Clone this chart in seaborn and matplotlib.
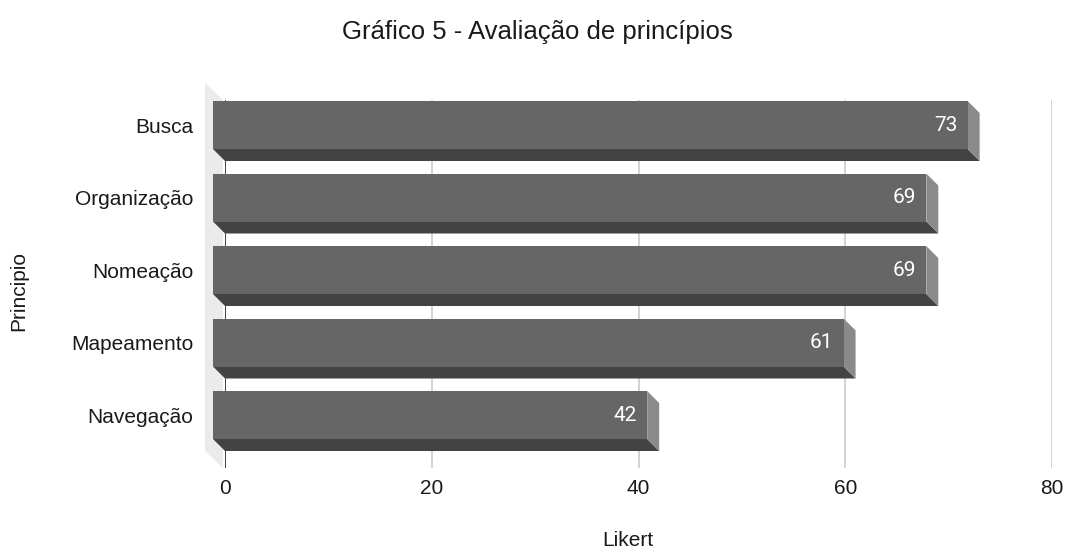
import matplotlib
matplotlib.use("Agg")
import matplotlib.pyplot as plt
from matplotlib.patches import Polygon
import seaborn as sns

# data
categories = ['Busca', 'Organização', 'Nomeação', 'Mapeamento', 'Navegação']
values = [73, 69, 69, 61, 42]
xticks = [0, 20, 40, 60, 80]

# colours
front = '#666666'
bottom_face = '#434343'
side_face = '#8a8a8a'
wall = '#ebebeb'
grid = '#cccccc'
text_c = '#1a1a1a'

sns.set_theme(style="white")
plt.rcParams['font.family'] = ['Liberation Sans', 'DejaVu Sans']

W, H = 1067, 554
fig = plt.figure(figsize=(W / 100, H / 100), dpi=100)
ax = fig.add_axes([225 / W, (H - 468) / H, 827 / W, 368 / H])

sns.barplot(x=values, y=categories, orient='h', color=front, saturation=1,
            width=0.662, ax=ax, zorder=3)
bars = list(ax.patches)

ax.set_xlim(0, 80)
ax.set_ylim(4.731, -0.345)

# 3d depth in data units (12 px)
depth = 12
dx = depth / 827 * 80
dy = depth / 72.5

# back wall at x = 0
wx = 20 / 827 * 80
wall_poly = Polygon([(-wx, -0.345 - 17 / 72.5), (-2 / 827 * 80, -0.345),
                     (-2 / 827 * 80, 4.731), (-wx, 4.731 - 17 / 72.5)],
                    closed=True, facecolor=wall, edgecolor='none',
                    clip_on=False, zorder=0)
ax.add_patch(wall_poly)

for x in xticks[1:]:
    ax.axvline(x, color=grid, lw=1.2, zorder=1)
ax.axvline(0, color='#333333', lw=1.3, zorder=1)

for p, v in zip(bars, values):
    x0, w = p.get_x(), p.get_width()
    y, h = p.get_y(), p.get_height()
    p.set_x(x0 - dx)
    p.set_clip_on(False)
    p.set_edgecolor('none')
    ax.add_patch(Polygon([(x0 - dx, y + h), (x0 + w - dx, y + h),
                          (x0 + w, y + h + dy), (x0, y + h + dy)],
                         facecolor=bottom_face, edgecolor='none',
                         clip_on=False, zorder=2))
    ax.add_patch(Polygon([(x0 + w - dx, y), (x0 + w, y + dy),
                          (x0 + w, y + h + dy), (x0 + w - dx, y + h)],
                         facecolor=side_face, edgecolor='none',
                         clip_on=False, zorder=2))
    ax.text(x0 + w - dx - 10 / 827 * 80, y + h / 2, str(v), color='white',
            ha='right', va='center', fontsize=15, family=['Roboto', 'DejaVu Sans'],
            zorder=4)

for s in ax.spines.values():
    s.set_visible(False)

ax.set_xticks(xticks)
ax.set_xticklabels([str(t) for t in xticks])
ax.tick_params(axis='both', length=0, labelsize=15, colors=text_c)
ax.tick_params(axis='x', pad=8)
ax.tick_params(axis='y', pad=23)

ax.set_xlabel('Likert', fontsize=15, color=text_c)
ax.xaxis.set_label_coords((628 - 225) / 827, (468 - 540) / 368)
ax.xaxis.label.set_va('center')
ax.set_ylabel('Principio', fontsize=15, color=text_c)
ax.yaxis.set_label_coords((19 - 225) / 827, (468 - 291) / 368)
ax.yaxis.label.set_va('center')
fig.text(537 / W, 1 - 32 / H, 'Gráfico 5 - Avaliação de princípios',
         ha='center', va='center', fontsize=18.5, color=text_c)

fig.savefig('out.png', dpi=100)
